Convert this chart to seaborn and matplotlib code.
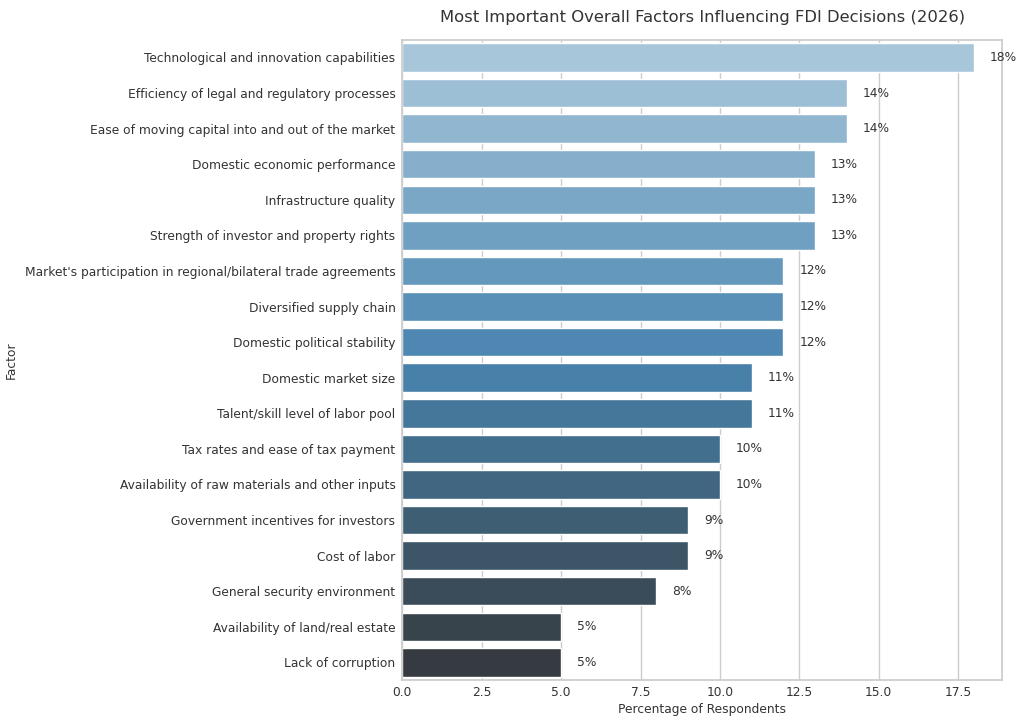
import matplotlib
matplotlib.use("Agg")
import matplotlib.pyplot as plt
import pandas as pd
import seaborn as sns

factors = [
    "Technological and innovation capabilities",
    "Efficiency of legal and regulatory processes",
    "Ease of moving capital into and out of the market",
    "Domestic economic performance",
    "Infrastructure quality",
    "Strength of investor and property rights",
    "Market's participation in regional/bilateral trade agreements",
    "Diversified supply chain",
    "Domestic political stability",
    "Domestic market size",
    "Talent/skill level of labor pool",
    "Tax rates and ease of tax payment",
    "Availability of raw materials and other inputs",
    "Government incentives for investors",
    "Cost of labor",
    "General security environment",
    "Availability of land/real estate",
    "Lack of corruption",
]
percentages = [18, 14, 14, 13, 13, 13, 12, 12, 12, 11, 11, 10, 10, 9, 9, 8, 5, 5]

df = pd.DataFrame({"Factor": factors, "Percentage": percentages})

sns.set_theme(style="whitegrid")
fig, ax = plt.subplots(figsize=(10.24, 7.22), dpi=100)
sns.barplot(data=df, x="Percentage", y="Factor", hue="Factor",
            palette="Blues_d", legend=False, ax=ax)

for i, v in enumerate(percentages):
    ax.text(v + 0.5, i, f"{v}%", va="center", ha="left", fontsize=8.8, color="#333333")

ax.set_title("Most Important Overall Factors Influencing FDI Decisions (2026)",
             fontsize=11.8, pad=13, color="#333333")
ax.set_xlabel("Percentage of Respondents", fontsize=8.8, color="#333333", labelpad=3)
ax.set_ylabel("Factor", fontsize=8.8, color="#333333", labelpad=5)
ax.tick_params(axis="y", labelsize=8.8, labelcolor="#333333", length=0, pad=5)
ax.tick_params(axis="x", labelsize=8.8, labelcolor="#333333", length=0, pad=4)
ax.set_xlim(0, 18.9)
ax.grid(axis="y", visible=False)

fig.subplots_adjust(left=0.393, right=0.979, top=0.945, bottom=0.058)
fig.savefig("out.png", dpi=100)
